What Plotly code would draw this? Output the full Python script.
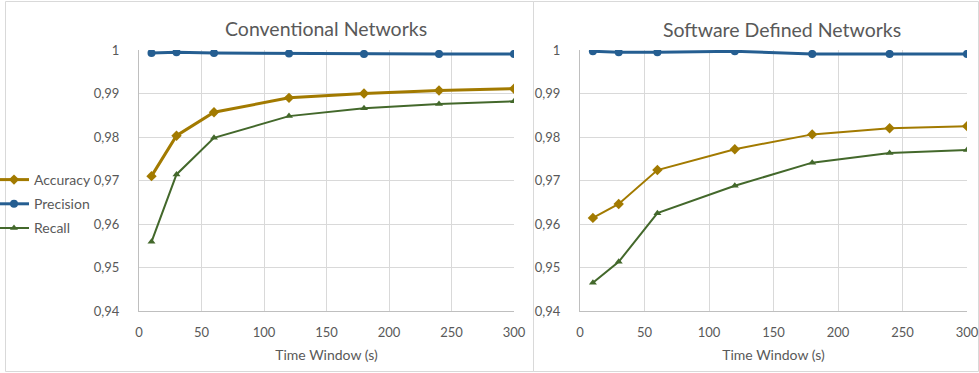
import plotly.graph_objects as go

time_window = [10, 30, 60, 120, 180, 240, 300]

conv_accuracy = [0.9710, 0.9803, 0.9857, 0.9890, 0.9900, 0.9907, 0.9911]
conv_precision = [0.9993, 0.9995, 0.9993, 0.9992, 0.9991, 0.9991, 0.9991]
conv_recall = [0.9559, 0.9714, 0.9798, 0.9848, 0.9866, 0.9876, 0.9882]

sdn_accuracy = [0.9614, 0.9646, 0.9724, 0.9772, 0.9806, 0.9820, 0.9825]
sdn_precision = [0.9997, 0.9995, 0.9995, 0.9997, 0.9991, 0.9991, 0.9991]
sdn_recall = [0.9465, 0.9513, 0.9625, 0.9688, 0.9741, 0.9763, 0.9770]

series_names = ["Accuracy", "Precision", "Recall"]
panel_titles = ["Conventional Networks", "Software Defined Networks"]
x_title = "Time Window (s)"
y_tickvals = [0.94, 0.95, 0.96, 0.97, 0.98, 0.99, 1.0]
y_ticktext = ["0,94", "0,95", "0,96", "0,97", "0,98", "0,99", "1"]
x_tickvals = [0, 50, 100, 150, 200, 250, 300]

COL = {"Accuracy": "#A27A00", "Precision": "#255E91", "Recall": "#43682B"}
SYM = {"Accuracy": "diamond", "Precision": "circle", "Recall": "triangle-up"}
FONT = "Lato, 'Open Sans', sans-serif"
TXT = "#595959"
GRID = "#D9D9D9"

W, H = 979, 373
fig = go.Figure()

panels = [
    ("x", "y", [conv_accuracy, conv_precision, conv_recall], [3, 3, 2], True),
    ("x2", "y2", [sdn_accuracy, sdn_precision, sdn_recall], [2, 3, 2], False),
]
for xa, ya, vals, widths, show in panels:
    for name, v, w in zip(series_names, vals, widths):
        fig.add_trace(go.Scatter(
            x=time_window, y=v, name=name, xaxis=xa, yaxis=ya,
            mode="lines+markers", legendgroup=name, showlegend=show,
            line=dict(color=COL[name], width=w),
            marker=dict(symbol=SYM[name], size=8 if name != "Recall" else 7, color=COL[name]),
        ))

def px_x(p):
    return p / W

def px_y(p):
    return 1 - p / H

ydom = [px_y(311), px_y(50)]
axis_common = dict(
    showgrid=True, gridcolor=GRID, gridwidth=1, zeroline=False,
    showline=True, linecolor="#BFBFBF", linewidth=1, automargin=False,
    ticklabeloverflow="allow",
    tickfont=dict(family=FONT, size=13, color=TXT),
)
fig.update_layout(
    width=W, height=H,
    margin=dict(l=0, r=0, t=0, b=0, autoexpand=False),
    paper_bgcolor="white", plot_bgcolor="white",
    font=dict(family=FONT, color=TXT),
    xaxis=dict(domain=[px_x(139), px_x(514)], range=[0, 300], tickvals=x_tickvals,
               anchor="y", ticklabelstandoff=9,
               title=dict(text=x_title, font=dict(family=FONT, size=14, color=TXT), standoff=11),
               **axis_common),
    yaxis=dict(domain=ydom, range=[0.94, 1.0], tickvals=y_tickvals, ticktext=y_ticktext,
               anchor="x", ticklabelstandoff=16, **axis_common),
    xaxis2=dict(domain=[px_x(580), px_x(967)], range=[0, 300], tickvals=x_tickvals,
                anchor="y2", ticklabelstandoff=9,
                title=dict(text=x_title, font=dict(family=FONT, size=14, color=TXT), standoff=11),
                **axis_common),
    yaxis2=dict(domain=ydom, range=[0.94, 1.0], tickvals=y_tickvals, ticktext=y_ticktext,
                anchor="x2", ticklabelstandoff=16, **axis_common),
    legend=dict(x=px_x(-6), y=px_y(164), xanchor="left", yanchor="top",
                font=dict(family=FONT, size=14, color=TXT),
                bgcolor="rgba(0,0,0,0)", itemwidth=30, tracegroupgap=3,
                traceorder="grouped"),
    showlegend=True,
)

fig.add_annotation(text=panel_titles[0], x=px_x(326), y=px_y(28), xref="paper", yref="paper",
                   xanchor="center", yanchor="middle",
                   showarrow=False, font=dict(family=FONT, size=19.5, color=TXT))
fig.add_annotation(text=panel_titles[1], x=px_x(782), y=px_y(29), xref="paper", yref="paper",
                   xanchor="center", yanchor="middle",
                   showarrow=False, font=dict(family=FONT, size=19.5, color=TXT))

fig.add_shape(type="rect", xref="paper", yref="paper", x0=px_x(5.5), x1=px_x(533.5),
              y0=px_y(371.5), y1=px_y(1.5), line=dict(color=GRID, width=1), layer="below")
fig.add_shape(type="rect", xref="paper", yref="paper", x0=px_x(533.5), x1=px_x(978.5),
              y0=px_y(371.5), y1=px_y(1.5), line=dict(color=GRID, width=1), layer="below")

fig.write_html("out.html", config={"displayModeBar": False},
               post_script="document.body.style.margin='0';")
